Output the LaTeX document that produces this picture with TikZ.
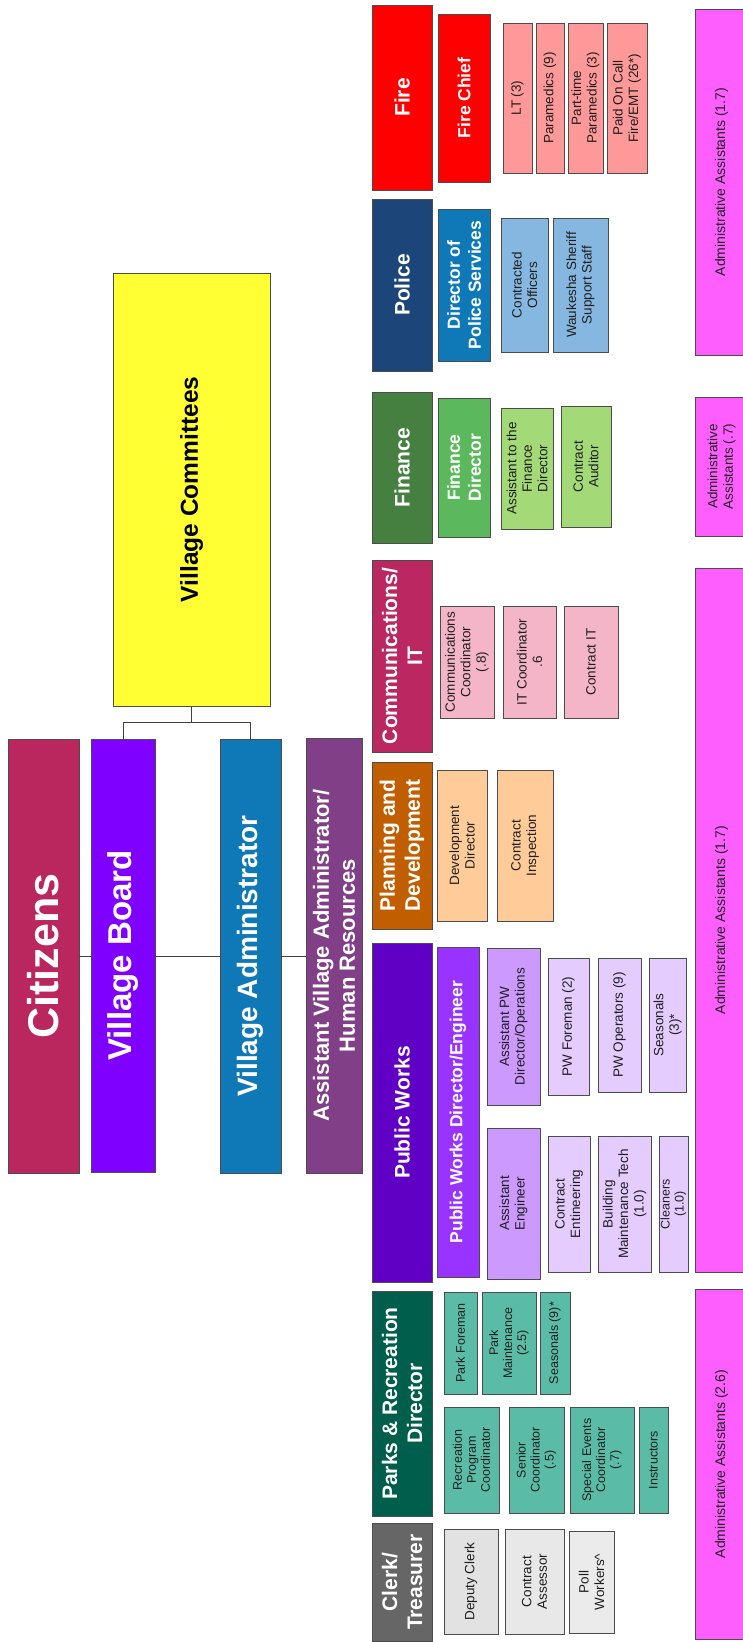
\documentclass[tikz,border=0pt]{standalone}
\usepackage{fontspec}
\setmainfont{Liberation Sans}
\definecolor{citc}{RGB}{186,38,94}
\definecolor{vbc}{RGB}{128,0,255}
\definecolor{vac}{RGB}{15,121,184}
\definecolor{avac}{RGB}{128,63,134}
\definecolor{vcc}{RGB}{255,255,51}
\definecolor{firec}{RGB}{255,0,0}
\definecolor{firesub}{RGB}{255,153,153}
\definecolor{polc}{RGB}{28,69,122}
\definecolor{polsub}{RGB}{133,183,224}
\definecolor{finc}{RGB}{70,128,64}
\definecolor{findir}{RGB}{92,184,92}
\definecolor{finsub}{RGB}{163,217,119}
\definecolor{commc}{RGB}{187,39,96}
\definecolor{commsub}{RGB}{245,181,200}
\definecolor{planc}{RGB}{192,94,0}
\definecolor{plansub}{RGB}{255,204,153}
\definecolor{pwc}{RGB}{95,0,196}
\definecolor{pwdir}{RGB}{153,51,255}
\definecolor{pwmid}{RGB}{204,153,255}
\definecolor{pwsub}{RGB}{229,204,255}
\definecolor{parkc}{RGB}{0,94,76}
\definecolor{parksub}{RGB}{90,188,166}
\definecolor{clerkc}{RGB}{102,102,102}
\definecolor{clerksub}{RGB}{226,226,226}
\definecolor{adminc}{RGB}{255,94,255}
\newcommand\orgbox[7]{%
  \pgfmathsetmacro\obw{#5-#3}\pgfmathsetmacro\obh{#4-#2}%
  \node[#6, rotate=90, minimum width=\obw pt, minimum height=\obh pt] (#1) at ({(#2+#4)/2},{(#3+#5)/2}) {#7};}
\begin{document}
\begin{tikzpicture}[x=1pt,y=-1pt,
  bx/.style={draw=black!70, line width=0.7pt, inner sep=0pt, outer sep=0pt, align=center},
  top/.style={bx, text=white},
  head/.style={bx, text=white, font=\fontsize{21}{25}\selectfont\bfseries},
  dirbox/.style={bx, text=white, font=\fontsize{17.5}{21}\selectfont\bfseries},
  sub/.style={bx, text=black!88, font=\fontsize{13.5}{15.5}\selectfont},
  smallsub/.style={bx, text=black!88, font=\fontsize{12.5}{14}\selectfont},
  conn/.style={draw=black!75, line width=0.8pt}]
\fill[white] (0,0) rectangle (743,1642);
\useasboundingbox (0,0) rectangle (743,1642);
% top level
\orgbox{cit}{8}{739}{79}{1173}{top,fill=citc,font=\fontsize{43}{48}\selectfont\bfseries}{Citizens}
\orgbox{vb}{91}{739}{155}{1172}{top,fill=vbc,font=\fontsize{33}{38}\selectfont\bfseries}{Village Board}
\orgbox{va}{220}{739}{281}{1173}{top,fill=vac,font=\fontsize{28}{32}\selectfont\bfseries}{Village Administrator}
\orgbox{ava}{306}{738}{362}{1173}{top,fill=avac,font=\fontsize{22}{26}\selectfont\bfseries}{Assistant Village Administrator/\\Human Resources}
\orgbox{vc}{113}{273}{270}{706}{bx,fill=vcc,text=black,font=\fontsize{24.5}{28}\selectfont\bfseries}{Village Committees}
% departments
\orgbox{fire}{372}{5}{432}{190}{head,fill=firec}{Fire}
\orgbox{police}{372}{199}{432}{371}{head,fill=polc}{Police}
\orgbox{finance}{372}{392}{432}{543}{head,fill=finc}{Finance}
\orgbox{comm}{372}{560}{432}{752}{head,fill=commc}{Communications/\\IT}
\orgbox{plan}{372}{762}{432}{929}{head,fill=planc}{Planning and\\Development}
\orgbox{pw}{372}{943}{432}{1282}{head,fill=pwc}{Public Works}
\orgbox{parks}{372}{1291}{432}{1516}{head,fill=parkc}{Parks \& Recreation\\Director}
\orgbox{clerk}{372}{1523}{432}{1641}{head,fill=clerkc}{Clerk/\\Treasurer}
% fire
\orgbox{firechief}{438}{14}{490}{182}{dirbox,fill=firec}{Fire Chief}
\orgbox{lt}{503}{23}{532}{173}{sub,fill=firesub}{LT (3)}
\orgbox{para}{536}{23}{564}{173}{sub,fill=firesub}{Paramedics (9)}
\orgbox{ptpara}{568}{23}{603}{173}{sub,fill=firesub}{Part-time\\Paramedics (3)}
\orgbox{paid}{607}{23}{647}{173}{sub,fill=firesub}{Paid On Call\\Fire/EMT (26*)}
% police
\orgbox{poldir}{438}{209}{490}{361}{dirbox,fill=vac}{Director of\\Police Services}
\orgbox{contoff}{501}{218}{548}{352}{sub,fill=polsub}{Contracted\\Officers}
\orgbox{sheriff}{553}{218}{608}{352}{sub,fill=polsub}{Waukesha Sheriff\\Support Staff}
% finance
\orgbox{findirector}{438}{398}{490}{537}{dirbox,fill=findir}{Finance\\Director}
\orgbox{asstfin}{501}{408}{553}{529}{sub,fill=finsub}{Assistant to the\\Finance\\Director}
\orgbox{auditor}{561}{406}{611}{527}{sub,fill=finsub}{Contract\\Auditor}
% communications
\orgbox{commco}{440}{606}{494}{718}{sub,fill=commsub}{Communications\\Coordinator\\(.8)}
\orgbox{itco}{503}{606}{556}{718}{sub,fill=commsub}{IT Coordinator\\.6}
\orgbox{contit}{564}{606}{618}{718}{sub,fill=commsub}{Contract IT}
% planning
\orgbox{devdir}{437}{770}{487}{921}{sub,fill=plansub}{Development\\Director}
\orgbox{contins}{497}{770}{553}{921}{sub,fill=plansub}{Contract\\Inspection}
% public works
\orgbox{pwdirector}{437}{947}{479}{1277}{dirbox,fill=pwdir}{Public Works Director/Engineer}
\orgbox{apwd}{487}{948}{540}{1105}{sub,fill=pwmid}{Assistant PW\\Director/Operations}
\orgbox{pwfore}{548}{958}{589}{1095}{sub,fill=pwsub}{PW Foreman (2)}
\orgbox{pwop}{598}{958}{641}{1092}{sub,fill=pwsub}{PW Operators (9)}
\orgbox{seasthree}{649}{958}{686}{1092}{sub,fill=pwsub}{Seasonals\\(3)*}
\orgbox{aeng}{487}{1128}{540}{1279}{sub,fill=pwmid}{Assistant\\Engineer}
\orgbox{ceng}{548}{1136}{590}{1272}{sub,fill=pwsub}{Contract\\Entineering}
\orgbox{bmt}{598}{1136}{651}{1272}{sub,fill=pwsub}{Building\\Maintenance Tech\\(1.0)}
\orgbox{clean}{659}{1136}{688}{1272}{smallsub,fill=pwsub}{Cleaners\\(1.0)}
% parks
\orgbox{pfore}{444}{1292}{477}{1394}{smallsub,fill=parksub}{Park Foreman}
\orgbox{pmaint}{482}{1292}{536}{1394}{smallsub,fill=parksub}{Park\\Maintenance\\(2.5)}
\orgbox{seasnine}{540}{1292}{570}{1394}{smallsub,fill=parksub}{Seasonals (9)*}
\orgbox{rpc}{444}{1407}{499}{1513}{smallsub,fill=parksub}{Recreation\\Program\\Coordinator}
\orgbox{senc}{509}{1407}{564}{1513}{smallsub,fill=parksub}{Senior\\Coordinator\\(.5)}
\orgbox{sevc}{570}{1407}{634}{1513}{smallsub,fill=parksub}{Special Events\\Coordinator\\(.7)}
\orgbox{instr}{639}{1407}{668}{1513}{smallsub,fill=parksub}{Instructors}
% clerk
\orgbox{dclerk}{444}{1529}{498}{1634}{sub,fill=clerksub}{Deputy Clerk}
\orgbox{cassess}{505}{1529}{564}{1634}{sub,fill=clerksub!80!white}{Contract\\Assessor}
\orgbox{poll}{569}{1531}{614}{1633}{sub,fill=clerksub!70!white}{Poll\\Workers\^{}}
% administrative assistants
\orgbox{admone}{695}{9}{748}{355}{sub,fill=adminc,font=\fontsize{14}{16}\selectfont}{Administrative Assistants (1.7)}
\orgbox{admtwo}{695}{397}{748}{536}{sub,fill=adminc}{Administrative\\Assistants (.7)}
\orgbox{admthree}{695}{568}{748}{1272}{sub,fill=adminc,font=\fontsize{14}{16}\selectfont}{Administrative Assistants (1.7)}
\orgbox{admfour}{695}{1289}{748}{1639}{sub,fill=adminc,font=\fontsize{14}{16}\selectfont}{Administrative Assistants (2.6)}
% connectors
\draw[conn] (vc.west) -- ++(0,16) -| (vb.east);
\draw[conn] (vc.west) -- ++(0,16) -| (va.east);
\draw[conn] (cit.south) -- (cit.south -| vb.north);
\draw[conn] (vb.south |- cit.south) -- (va.north |- cit.south);
\draw[conn] (va.south |- cit.south) -- (ava.north |- cit.south);
\end{tikzpicture}
\end{document}
